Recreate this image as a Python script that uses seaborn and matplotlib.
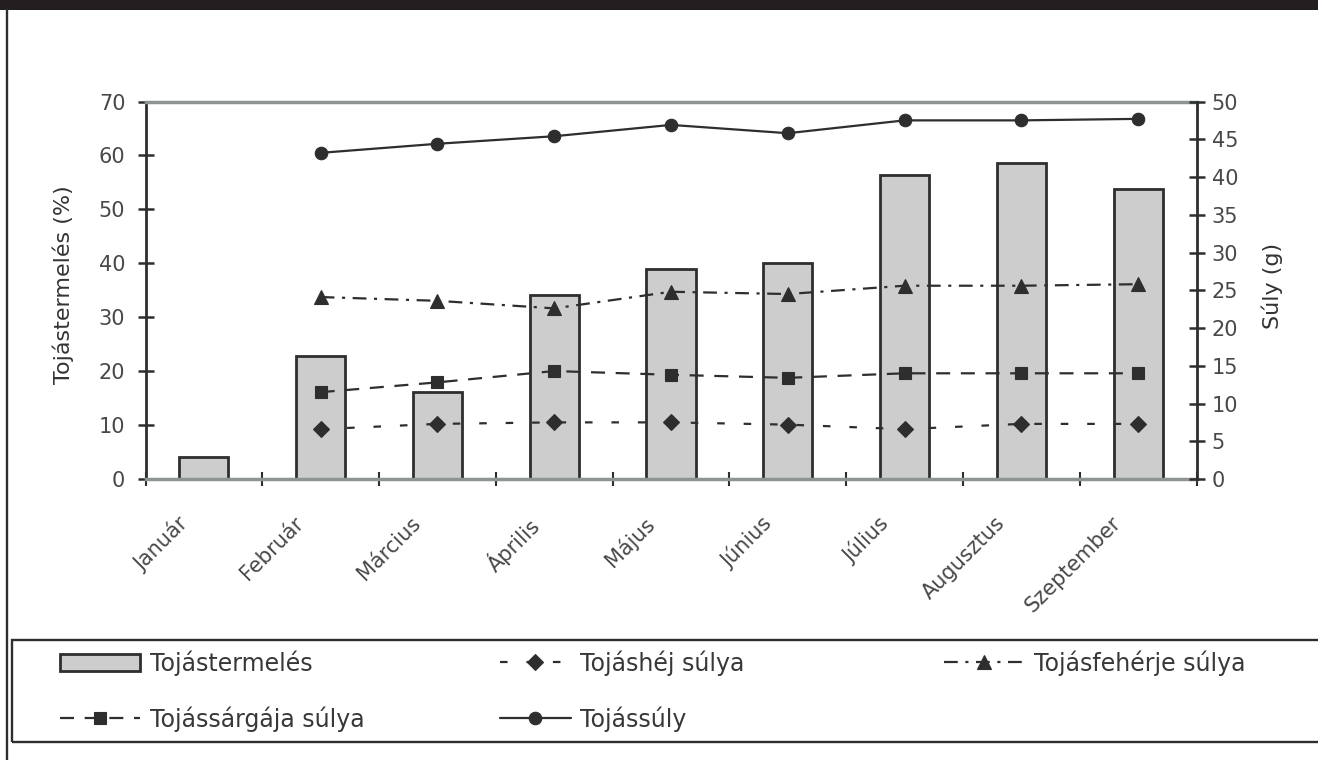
import matplotlib
matplotlib.use("Agg")
import matplotlib.pyplot as plt
import matplotlib.transforms as mtransforms
from matplotlib.patches import Rectangle
from matplotlib.lines import Line2D
import numpy as np
import pandas as pd
import seaborn as sns

# Monthly egg production (%) and egg component weights (g)
months = ["Január", "Február", "Március", "Április", "Május",
          "Június", "Július", "Augusztus", "Szeptember"]
production = [4.0, 22.8, 16.1, 34.1, 39.0, 40.1, 56.4, 58.6, 53.8]

weight_months = months[1:]
egg_weight = [43.2, 44.4, 45.4, 46.9, 45.8, 47.5, 47.5, 47.7]
albumen_weight = [24.1, 23.6, 22.6, 24.8, 24.5, 25.6, 25.6, 25.8]
yolk_weight = [11.5, 12.8, 14.3, 13.8, 13.4, 14.0, 14.0, 14.0]
shell_weight = [6.6, 7.3, 7.5, 7.5, 7.2, 6.6, 7.3, 7.3]

left_ticks = list(range(0, 71, 10))
right_ticks = list(range(0, 51, 5))

DARK = "#2e2e2e"
TXT = "#484848"
GREY = "#8e9494"

sns.set_theme(style="white")
plt.rcParams["font.family"] = ["DejaVu Sans"]

W, H = 1318, 760
fig = plt.figure(figsize=(W / 100, H / 100), dpi=100)
fig.patch.set_facecolor("white")


def fx(px):
    return px / W


def fy(py):
    return 1 - py / H


ax = fig.add_axes([fx(145.5), fy(479), fx(1196.5) - fx(145.5), fy(101.5) - fy(479)])

bars = pd.DataFrame({"Hónap": months, "Tojástermelés": production})
sns.barplot(data=bars, x="Hónap", y="Tojástermelés", ax=ax, color="#cdcdcd",
            saturation=1, edgecolor=DARK, linewidth=2, width=0.42,
            label="Tojástermelés", zorder=2)
if ax.get_legend() is not None:
    ax.get_legend().remove()

ax2 = ax.twinx()
pos = [months.index(m) for m in weight_months]
series = [
    ("Tojáshéj súlya", shell_weight, "D", (0, (3.4, 8.5)), 8),
    ("Tojásfehérje súlya", albumen_weight, "^", (0, (6.2, 3.4, 1.4, 3.4)), 10),
    ("Tojássárgája súlya", yolk_weight, "s", (0, (6.3, 4.8)), 9),
    ("Tojássúly", egg_weight, "o", "-", 9),
]
for label, vals, mk, ls, ms in series:
    sns.lineplot(x=pos, y=vals, ax=ax2, color=DARK, marker=mk, markersize=ms,
                 markeredgecolor=DARK, markerfacecolor=DARK, markeredgewidth=0.8,
                 linestyle=ls, linewidth=1.6, label=label, errorbar=None, sort=False)
if ax2.get_legend() is not None:
    ax2.get_legend().remove()

ax.set_ylim(0, 70)
ax2.set_ylim(0, 50)
ax.set_xlim(-0.5, len(months) - 0.5)

# Spines
ax.spines["left"].set_color(DARK)
ax.spines["left"].set_linewidth(2)
ax.spines["right"].set_visible(False)
for s in ("top", "bottom"):
    ax.spines[s].set_color(GREY)
    ax.spines[s].set_linewidth(2.5)
for s in ("left", "top", "bottom"):
    ax2.spines[s].set_visible(False)
ax2.spines["right"].set_color(DARK)
ax2.spines["right"].set_linewidth(2)

# Y ticks
ax.set_yticks(left_ticks)
ax2.set_yticks(right_ticks)
ax.tick_params(axis="y", direction="inout", length=11, width=1.8, color=DARK,
               labelsize=15, labelcolor=TXT, pad=9, left=True)
ax2.tick_params(axis="y", direction="inout", length=12, width=1.8, color=DARK,
                labelsize=15, labelcolor=TXT, pad=5, right=True)

# X ticks: labels at categories, tick marks between them
ax.set_xticks(range(len(months)))
ax.set_xticklabels(months, rotation=45, ha="right", va="top", rotation_mode="anchor")
ax.set_xticks(np.arange(-0.5, len(months), 1), minor=True)
ax.tick_params(axis="x", which="major", length=0, labelsize=15, labelcolor=TXT, pad=0)
ax.tick_params(axis="x", which="minor", direction="inout", length=10, width=1.5,
               color=DARK, bottom=True)
offset = mtransforms.ScaledTranslation(-27 / 100, -34 / 100, fig.dpi_scale_trans)
for lbl in ax.get_xticklabels():
    lbl.set_transform(lbl.get_transform() + offset)

ax.set_xlabel("")
ax.set_ylabel("Tojástermelés (%)", fontsize=16, color="#333333")
ax.yaxis.label.set_va("center")
ax.yaxis.set_label_coords((63 - 145.5) / 1051, (479 - 285) / 377.5)
ax2.set_ylabel("Súly (g)", fontsize=16, color="#333333", rotation=90)
ax2.yaxis.label.set_va("center")
ax2.yaxis.label.set_ha("center")
ax2.yaxis.set_label_coords((1272 - 145.5) / 1051, (479 - 286) / 377.5)

# Header band and frame lines
fig.add_artist(Rectangle((0, fy(10)), 1, 1 - fy(10), transform=fig.transFigure,
                         facecolor="#231f20", edgecolor="none"))
fig.add_artist(Line2D([fx(7), fx(7)], [0, fy(10)], transform=fig.transFigure,
                      color=DARK, linewidth=1.7))
fig.add_artist(Rectangle((fx(12), fy(742)), 1.05, fy(640) - fy(742),
                         transform=fig.transFigure, fill=False,
                         edgecolor=DARK, linewidth=1.7))

# Legend, laid out in three columns
handles = dict(zip(*ax2.get_legend_handles_labels()[::-1]))
bar_handle = ax.containers[0]
leg_kw = dict(loc="upper left", frameon=False, borderpad=0, borderaxespad=0,
              fontsize=17, labelcolor="#383838", handletextpad=0.4, labelspacing=1.3)
fig.legend([bar_handle, handles["Tojássárgája súlya"]],
           ["Tojástermelés", "Tojássárgája súlya"],
           bbox_to_anchor=(fx(60), fy(650)), handlelength=3.4, **leg_kw)
fig.legend([handles["Tojáshéj súlya"], handles["Tojássúly"]],
           ["Tojáshéj súlya", "Tojássúly"],
           bbox_to_anchor=(fx(500), fy(650)), handlelength=3.0, **leg_kw)
fig.legend([handles["Tojásfehérje súlya"]], ["Tojásfehérje súlya"],
           bbox_to_anchor=(fx(944), fy(650)), handlelength=3.4, **leg_kw)

fig.savefig("out.png", dpi=100)
